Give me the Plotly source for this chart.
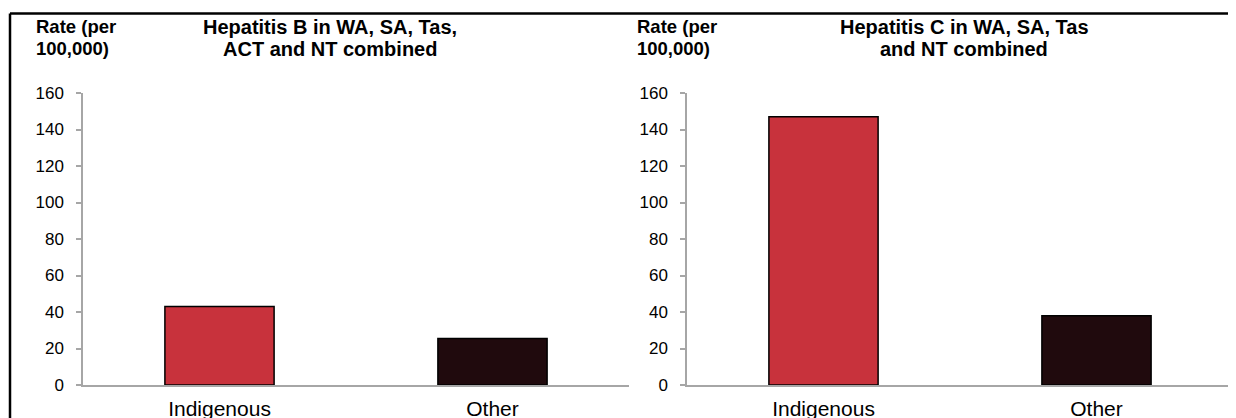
import plotly.graph_objects as go

categories = ["Indigenous", "Other"]
hep_b_rates = [43, 25.5]
hep_c_rates = [147, 38]
bar_colors = ["#C8323C", "#200A0D"]
y_ticks = [0, 20, 40, 60, 80, 100, 120, 140, 160]
titles = [["Hepatitis B in WA, SA, Tas,", "ACT and NT combined"],
          ["Hepatitis C in WA, SA, Tas", "and NT combined"]]
y_label = ["Rate (per", "100,000)"]

W, H = 1236, 418
OFF = 8  # default body margin of the page
def px(x): return (x - OFF) / W
def py(y): return (H - (y - OFF)) / H

fig = go.Figure()
fig.add_trace(go.Bar(x=categories, y=hep_b_rates, marker=dict(color=bar_colors, line=dict(color="black", width=1.5)),
                     width=0.4, xaxis="x", yaxis="y", showlegend=False))
fig.add_trace(go.Bar(x=categories, y=hep_c_rates, marker=dict(color=bar_colors, line=dict(color="black", width=1.5)),
                     width=0.4, xaxis="x2", yaxis="y2", showlegend=False))

font = "Liberation Sans, Arial, sans-serif"
axcommon_y = dict(range=[0, 160], tickvals=y_ticks, showgrid=False, zeroline=False,
                  showline=True, linecolor="#A6A6A6", linewidth=1.5,
                  ticks="outside", ticklen=5, tickcolor="#A6A6A6", tickwidth=1.5,
                  tickfont=dict(family=font, size=17, color="black"),
                  domain=[py(385), py(93)], ticklabelstandoff=9, automargin=False)
axcommon_x = dict(showgrid=False, zeroline=False, showline=True, linecolor="#A6A6A6", linewidth=1.5,
                  ticks="", tickfont=dict(family=font, size=21, color="black"), ticklabelstandoff=4,
                  automargin=False)

fig.update_layout(
    width=W, height=H,
    margin=dict(l=0, r=0, t=0, b=0, autoexpand=False),
    paper_bgcolor="white", plot_bgcolor="white",
    xaxis=dict(domain=[px(83), px(629)], anchor="y", **axcommon_x),
    xaxis2=dict(domain=[px(687), px(1233)], anchor="y2", **axcommon_x),
    yaxis=dict(anchor="x", **axcommon_y),
    yaxis2=dict(anchor="x2", **axcommon_y),
    bargap=0.6,
)

for cx, lines in zip([330, 964], titles):
    for ly, t in zip([27, 49], lines):
        fig.add_annotation(x=px(cx), y=py(ly), xref="paper", yref="paper", text="<b>" + t + "</b>",
                           showarrow=False, xanchor="center", yanchor="middle", align="center",
                           font=dict(family=font, size=20, color="black"))
for lx in [34, 635]:
    for ly, t in zip([27, 48], y_label):
        fig.add_annotation(x=px(lx), y=py(ly), xref="paper", yref="paper", text="<b>" + t + "</b>",
                           showarrow=False, xanchor="left", yanchor="middle", align="left",
                           font=dict(family=font, size=18.5, color="black"))

border = dict(color="black", width=2.5)
fig.add_shape(type="line", xref="paper", yref="paper", x0=px(10), x1=px(1300), y0=py(13.5), y1=py(13.5),
              line=border, layer="above")
fig.add_shape(type="line", xref="paper", yref="paper", x0=px(10), x1=px(10), y0=py(13.5), y1=py(480),
              line=border, layer="above")

fig.write_html("out.html")
